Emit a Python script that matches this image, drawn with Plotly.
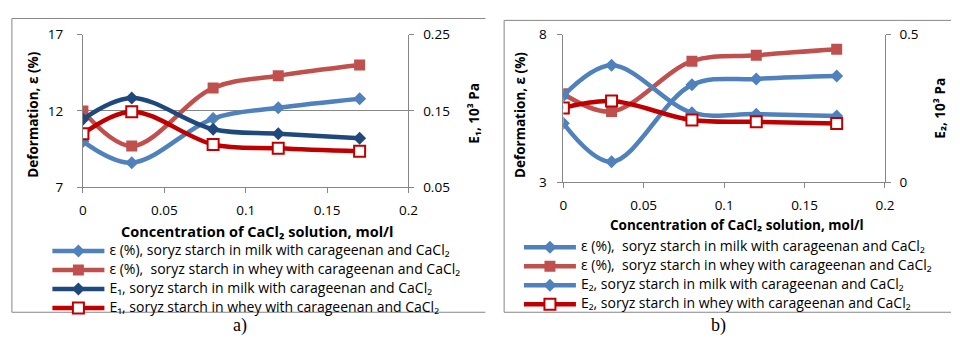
import plotly.graph_objects as go

W, H = 960, 344

# ---------------- data ----------------
conc = [0, 0.03, 0.08, 0.12, 0.17]

# panel a)
eps_milk_a = [10.0, 8.6, 11.5, 12.2, 12.8]
eps_whey_a = [12.0, 9.7, 13.5, 14.3, 15.0]
E1_milk = [0.139, 0.167, 0.126, 0.120, 0.114]
E1_whey = [0.120, 0.149, 0.106, 0.101, 0.097]

# panel b)
eps_milk_b = [5.0, 3.7, 6.3, 6.5, 6.6]
eps_whey_b = [6.0, 5.4, 7.1, 7.3, 7.5]
E2_milk = [0.293, 0.396, 0.236, 0.231, 0.225]
E2_whey = [0.252, 0.275, 0.211, 0.205, 0.199]

x_ticks = [0, 0.05, 0.1, 0.15, 0.2]
ya_left_ticks = [7, 12, 17]
ya_right_ticks = [0.05, 0.15, 0.25]
yb_left_ticks = [3, 8]
yb_right_ticks = [0, 0.5]

names_a = [
    "ε (%), soryz starch in milk with carageenan and CaCl₂",
    "ε (%), \u00a0soryz starch in whey with carageenan and CaCl₂",
    "E₁, soryz starch in milk with carageenan and CaCl₂",
    "E₁, soryz starch in whey with carageenan and CaCl₂",
]
names_b = [
    "ε (%), \u00a0soryz starch in milk with carageenan and CaCl₂",
    "ε (%), \u00a0soryz starch in whey with carageenan and CaCl₂",
    "E₂, soryz starch in milk with carageenan and CaCl₂",
    "E₂, soryz starch in whey with carageenan and CaCl₂",
]

# ---------------- style ----------------
FONT = "Open Sans"
GRAY = "#868686"
C_LBLUE = "#4F81BD"
C_RED = "#C0504D"
C_DBLUE = "#1F497D"
C_DRED = "#C00000"
LW = 4.5
LEG_PX = 14  # rendered legend text size


def px(x):
    return x / W


def py(y):
    return 1 - y / H


def big(name):
    return f'<span style="font-size:{LEG_PX}px">{name}</span>'


def series(x, y, name, color, symbol, size, xa, ya, legend, fill=None, lwid=0):
    return go.Scatter(
        x=x, y=y, name=big(name), mode="lines+markers",
        line=dict(color=color, width=LW, shape="spline", smoothing=1.0),
        marker=dict(symbol=symbol, size=size, color=fill if fill else color,
                    line=dict(color=color, width=lwid)),
        xaxis=xa, yaxis=ya, legend=legend,
    )


fig = go.Figure()
# panel a
fig.add_trace(series(conc, eps_milk_a, names_a[0], C_LBLUE, "diamond", 10, "x", "y", "legend"))
fig.add_trace(series(conc, eps_whey_a, names_a[1], C_RED, "square", 11, "x", "y", "legend"))
fig.add_trace(series(conc, E1_milk, names_a[2], C_DBLUE, "diamond", 10, "x", "y2", "legend"))
fig.add_trace(series(conc, E1_whey, names_a[3], C_DRED, "square", 11, "x", "y2", "legend",
                     fill="white", lwid=2))
# panel b
fig.add_trace(series(conc, eps_milk_b, names_b[0], C_LBLUE, "diamond", 10, "x2", "y3", "legend2"))
fig.add_trace(series(conc, eps_whey_b, names_b[1], C_RED, "square", 11, "x2", "y3", "legend2"))
fig.add_trace(series(conc, E2_milk, names_b[2], C_LBLUE, "diamond", 10, "x2", "y4", "legend2"))
fig.add_trace(series(conc, E2_whey, names_b[3], C_DRED, "square", 11, "x2", "y4", "legend2",
                     fill="white", lwid=2))

tickfont = dict(family=FONT, size=13.5, color="#000000")
common_axis = dict(showline=True, linecolor=GRAY, linewidth=1, ticks="outside", ticklen=5,
                   tickcolor=GRAY, tickfont=tickfont, zeroline=False, showgrid=False,
                   fixedrange=True)

ya_dom = [py(188), py(27)]
yb_dom = [py(183), py(27)]

legend_common = dict(xanchor="left", yanchor="top",
                     font=dict(family=FONT, size=11, color="#000000"),
                     itemwidth=52, bgcolor="rgba(0,0,0,0)", borderwidth=0,
                     tracegroupgap=0, itemclick=False, itemdoubleclick=False)

fig.update_layout(
    width=W, height=H,
    margin=dict(l=0, r=0, t=0, b=0),
    paper_bgcolor="white", plot_bgcolor="white",
    font=dict(family=FONT, color="#000000"),
    showlegend=True,
    xaxis=dict(domain=[px(80), px(410)], range=[0, 0.2], tickvals=x_ticks,
               anchor="y", ticklabelstandoff=6, **common_axis),
    yaxis=dict(domain=ya_dom, range=[7, 17], tickvals=ya_left_ticks, anchor="x",
               ticklabelstandoff=11,
               minor=dict(tickvals=[12], showgrid=True, gridcolor=GRAY, gridwidth=1, ticks=""),
               **common_axis),
    yaxis2=dict(domain=ya_dom, range=[0.05, 0.25], tickvals=ya_right_ticks,
                ticktext=["0.05", "0.15", "0.25"], overlaying="y", side="right", anchor="x",
                ticklabelstandoff=6, **common_axis),
    xaxis2=dict(domain=[px(567), px(893)], range=[0, 0.2], tickvals=x_ticks,
                anchor="y3", ticklabelstandoff=5, **common_axis),
    yaxis3=dict(domain=yb_dom, range=[3, 8], tickvals=yb_left_ticks, anchor="x2",
                ticklabelstandoff=8,
                **{**common_axis, "showgrid": True, "gridcolor": GRAY}),
    yaxis4=dict(domain=yb_dom, range=[0, 0.5], tickvals=yb_right_ticks,
                ticktext=["0", "0.5"], overlaying="y3", side="right", anchor="x2",
                ticklabelstandoff=6, **common_axis),
    legend=dict(x=px(44), y=py(240), **legend_common),
    legend2=dict(x=px(522), y=py(236), **legend_common),
)

ann = [
    dict(text="<b>Concentration of CaCl₂ solution, mol/l</b>", x=px(257), y=py(235), size=14.5),
    dict(text="<b>Concentration of CaCl₂ solution, mol/l</b>", x=px(743), y=py(228), size=13.5),
    dict(text="<b>Deformation, ε (%)</b>", x=px(30), y=py(112), textangle=-90, size=13.5),
    dict(text="<b>E₁, 10³ Pa</b>", x=px(477), y=py(110), textangle=-90, size=13.5),
    dict(text="<b>Deformation, ε (%)</b>", x=px(523), y=py(112), textangle=-90, size=13.5),
    dict(text="<b>E₂, 10³ Pa</b>", x=px(948), y=py(105), textangle=-90, size=13.5),
]
for a in ann:
    size = a.pop("size")
    fig.add_annotation(xref="paper", yref="paper", showarrow=False,
                       xanchor="center", yanchor="middle",
                       font=dict(family=FONT, size=size, color="#000000"), **a)

for t, xc in (("a)", 239), ("b)", 724)):
    fig.add_annotation(text=t, xref="paper", yref="paper", x=px(xc), y=py(334),
                       showarrow=False, xanchor="center", yanchor="middle",
                       font=dict(family="Liberation Serif", size=18, color="#000000"))

# panel frames
frame = dict(color=GRAY, width=1)
for x0, y0, x1, y1 in [
    (8, 10, 488, 10), (8, 10, 8, 320), (8, 320, 488, 320),
    (507, 12, 960, 12), (507, 12, 507, 320), (507, 320, 960, 320),
]:
    fig.add_shape(type="line", xref="paper", yref="paper",
                  x0=px(x0), y0=py(y0), x1=px(x1), y1=py(y1), line=frame, layer="below")

fig.write_html("out.html")
